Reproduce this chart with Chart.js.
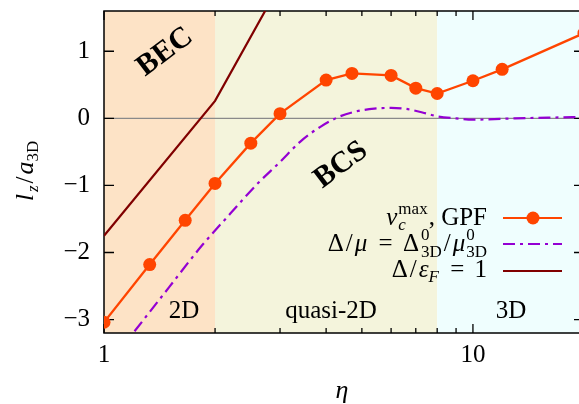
<!DOCTYPE html>
<html>
<head>
<meta charset="UTF-8">
<title>l_z/a_3D vs eta</title>
<script src="https://cdn.jsdelivr.net/npm/chart.js"></script>
<style>
body{margin:0;overflow:hidden;background:white;}
#wrap{width:584px;height:404px;}
</style>
</head>
<body>
<div id="wrap"><canvas id="c" width="584" height="404"></canvas></div>
<script>
// v_c^max, GPF
const gpfEta=[1,1.33,1.66,2,2.5,3,4,4.7,6,7,8,10,12,20];
const gpfLz=[-3.04,-2.18,-1.52,-0.97,-0.37,0.07,0.57,0.67,0.64,0.45,0.37,0.56,0.73,1.27];
// Delta/mu = Delta0_3D/mu0_3D
const gapEta=[1.1,1.2,1.5,1.84,2.2,2.6,3,3.4,3.85,4.32,4.8,5.4,6,6.6,7.5,8,9,10,11,13,16,20];
const gapLz=[-3.47,-3.2,-2.52,-1.9,-1.42,-0.98,-0.65,-0.35,-0.13,0.02,0.1,0.145,0.155,0.14,0.07,0.03,0,-0.02,-0.015,0,0.01,0.02];
// Delta/eps_F = 1
const fermiEta=[1,2,3];
const fermiLz=[-1.75,0.26,2.0];

// regimes
const regionEdges=[1,2,8,20];
const regionNames=['2D','quasi-2D','3D'];
const regionColors=['#fde3c6','#f4f4dc','#effefe'];

const xTicks=[1,2,3,4,5,6,7,8,9,10,20];
const xLabels=[1,10];
const yTicks=[-3,-2,-1,0,1];

const C_GPF='#ff4500', C_GAP='#9400d3', C_FERMI='#800000';
const SERIF='"Liberation Serif"';

function pts(xs,ys){return xs.map((x,i)=>({x:x,y:ys[i]}));}

// draw text built from groups of [text,font,dy]; items of one group share x
// a number in a group is extra space after it
function drawMath(ctx,groups,x,y,align){
  let widths=groups.map(g=>{
    let w=0,extra=0;
    g.forEach(it=>{
      if(typeof it==='number'){extra+=it;return;}
      ctx.font=it[1];w=Math.max(w,ctx.measureText(it[0]).width);
    });
    return w+extra;
  });
  let total=widths.reduce((a,b)=>a+b,0);
  let cx = align==='right' ? x-total : align==='center' ? x-total/2 : x;
  ctx.textAlign='left';
  ctx.textBaseline='alphabetic';
  groups.forEach((g,k)=>{
    g.forEach(it=>{if(typeof it==='number')return;ctx.font=it[1];ctx.fillText(it[0],cx,y+it[2]);});
    cx+=widths[k];
  });
}

const deco={
  id:'deco',
  beforeDraw(chart){
    const {ctx,chartArea:a,scales:{x,y}}=chart;
    ctx.save();
    for(let i=0;i<regionNames.length;i++){
      const x0=x.getPixelForValue(regionEdges[i]);
      const x1=x.getPixelForValue(regionEdges[i+1]);
      ctx.fillStyle=regionColors[i];
      ctx.fillRect(x0,a.top,x1-x0,a.bottom-a.top);
    }
    // zero line
    ctx.strokeStyle='#8a8a8a';
    ctx.lineWidth=1.2;
    const y0=y.getPixelForValue(0);
    ctx.beginPath();ctx.moveTo(a.left,y0);ctx.lineTo(a.right,y0);ctx.stroke();
    ctx.restore();
  },
  beforeDatasetsDraw(chart){
    const {ctx,chartArea:a,scales:{x,y}}=chart;
    ctx.save();
    ctx.strokeStyle='#000';
    ctx.lineWidth=1.3;
    ctx.beginPath();
    xTicks.forEach(v=>{
      const px=x.getPixelForValue(v);
      const len=(v===1||v===10)?9:5;
      ctx.moveTo(px,a.bottom);ctx.lineTo(px,a.bottom-len);
      ctx.moveTo(px,a.top);ctx.lineTo(px,a.top+len);
    });
    yTicks.forEach(v=>{
      const py=y.getPixelForValue(v);
      ctx.moveTo(a.left,py);ctx.lineTo(a.left+10,py);
      ctx.moveTo(a.right,py);ctx.lineTo(a.right-10,py);
    });
    ctx.stroke();
    ctx.lineWidth=1.5;
    ctx.strokeRect(a.left,a.top,a.right-a.left,a.bottom-a.top);
    ctx.restore();
  },
  afterDraw(chart){
    const {ctx}=chart;
    ctx.save();
    ctx.fillStyle='#000';
    // regime names
    ctx.font='25px '+SERIF;
    ctx.textAlign='center';
    ctx.textBaseline='alphabetic';
    ctx.fillText(regionNames[0],184,318);
    ctx.fillText(regionNames[1],331,318);
    ctx.fillText(regionNames[2],511,318);
    // BEC / BCS
    ctx.font='bold 30px '+SERIF;
    ctx.textBaseline='middle';
    [['BEC',165,52],['BCS',341,165]].forEach(t=>{
      ctx.save();ctx.translate(t[1],t[2]);ctx.rotate(-37*Math.PI/180);
      ctx.fillText(t[0],0,0);ctx.restore();
    });
    // axis titles
    const R25='25px '+SERIF, I25='italic 26px '+SERIF, r17='17px '+SERIF, i17='italic 17px '+SERIF;
    drawMath(ctx,[[['η',I25,0]]],342,398,'center');
    ctx.save();ctx.translate(33,171);ctx.rotate(-Math.PI/2);
    drawMath(ctx,[[['l',I25,0],2],[['z',i17,5],2],[['/',R25,0],2],[['a',I25,0]],[['3D',r17,5]]],0,0,'center');
    ctx.restore();
    // legend
    const R='25px '+SERIF, I='italic 25px '+SERIF, r='17px '+SERIF, i='italic 17px '+SERIF;
    const tx=487;
    drawMath(ctx,[[['v',I,0],1],[['max',r,-11],['c',i,5],1],[[', GPF',R,0]]],tx,225,'right');
    drawMath(ctx,[[['Δ',R,0],2],[['/',R,0],2],[['μ',I,0],1],[[' ',R,0],4],[['=',R,0],4],[[' ',R,0]],[['Δ',R,0],2],[['0',r,-11],['3D',r,6],2],[['/',R,0],2],[['μ',I,0],1],[['0',r,-11],['3D',r,6]]],tx,251,'right');
    drawMath(ctx,[[['Δ',R,0],2],[['/',R,0],2],[['ε',I,0]],[['F',i,5],1],[[' ',R,0],4],[['=',R,0],4],[[' ',R,0]],[['1',R,0]]],tx,277,'right');
    const lx0=503,lx1=562;
    ctx.lineWidth=2.2;
    ctx.strokeStyle=C_GPF;
    ctx.beginPath();ctx.moveTo(lx0,218);ctx.lineTo(lx1,218);ctx.stroke();
    ctx.fillStyle=C_GPF;
    ctx.beginPath();ctx.arc(533,218,6.5,0,2*Math.PI);ctx.fill();
    ctx.strokeStyle=C_GAP;
    ctx.setLineDash([12,5,3,5]);
    ctx.beginPath();ctx.moveTo(lx0,244);ctx.lineTo(lx1,244);ctx.stroke();
    ctx.setLineDash([]);
    ctx.strokeStyle=C_FERMI;
    ctx.beginPath();ctx.moveTo(lx0,271);ctx.lineTo(lx1,271);ctx.stroke();
    ctx.restore();
  }
};

new Chart(document.getElementById('c'),{
  type:'line',
  data:{datasets:[
    {label:'Delta/eF=1',data:pts(fermiEta,fermiLz),borderColor:C_FERMI,borderWidth:2.2,pointRadius:0,tension:0},
    {label:'Delta/mu',data:pts(gapEta,gapLz),borderColor:C_GAP,borderWidth:2.2,borderDash:[12,5,3,5],pointRadius:0,cubicInterpolationMode:'monotone'},
    {label:'GPF',data:pts(gpfEta,gpfLz),borderColor:C_GPF,backgroundColor:C_GPF,borderWidth:2.3,pointRadius:6.5,pointBorderWidth:0,tension:0}
  ]},
  options:{
    responsive:false,
    animation:false,
    layout:{autoPadding:false,padding:{top:11,left:0,right:0,bottom:0}},
    plugins:{legend:{display:false},tooltip:{enabled:false}},
    scales:{
      x:{
        type:'logarithmic',min:1,max:20,
        afterBuildTicks:s=>{s.ticks=xTicks.map(v=>({value:v}));},
        afterFit:s=>{s.height=71;s.paddingLeft=0;s.paddingRight=0;},
        grid:{display:false,drawTicks:false},
        border:{display:false},
        ticks:{autoSkip:false,maxRotation:0,padding:7,color:'#000',font:{family:SERIF,size:25},
          callback:v=>xLabels.includes(v)?String(v):''}
      },
      y:{
        min:-3.2,max:1.6,
        afterBuildTicks:s=>{s.ticks=yTicks.map(v=>({value:v}));},
        afterFit:s=>{s.width=104;s.paddingTop=0;s.paddingBottom=0;},
        grid:{display:false,drawTicks:false},
        border:{display:false},
        ticks:{padding:14,color:'#000',font:{family:SERIF,size:25},
          callback:v=>v<0?'\u2212'+(-v):String(v)}
      }
    }
  },
  plugins:[deco]
});
</script>
</body>
</html>
